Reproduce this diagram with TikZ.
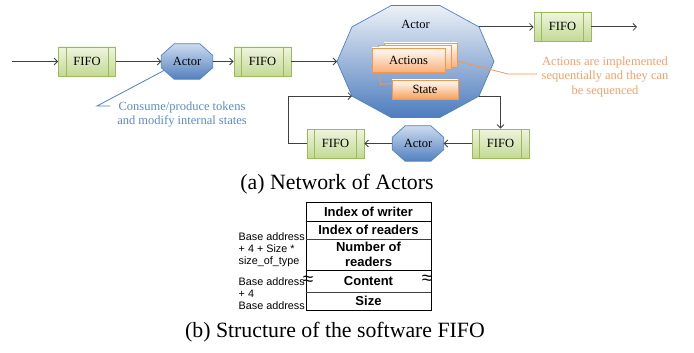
\documentclass[tikz,border=0pt]{standalone}
\usepackage{fontspec}
\setmainfont{Liberation Serif}
\setsansfont{Liberation Sans}
\usetikzlibrary{arrows.meta,calc}
\pgfdeclarelayer{bg}
\pgfsetlayers{bg,main}
\definecolor{fifoline}{HTML}{9BBB59}
\definecolor{fifotop}{HTML}{EEF5DD}
\definecolor{fifobot}{HTML}{C3D995}
\definecolor{actline}{HTML}{4F81BD}
\definecolor{acttop}{HTML}{CCDBEF}
\definecolor{actmidc}{HTML}{8DAFD9}
\definecolor{actbot}{HTML}{5280BF}
\definecolor{bigtop}{HTML}{EDF1F7}
\definecolor{bigbot}{HTML}{4D7CBE}
\definecolor{orline}{HTML}{F79646}
\definecolor{ortop}{HTML}{FFFCFA}
\definecolor{ormid}{HTML}{FCDCC4}
\definecolor{orbot}{HTML}{F9B07A}
\definecolor{ortext}{HTML}{F4A06A}
\definecolor{bluetext}{HTML}{5B8CC8}
\definecolor{arrowgray}{HTML}{404040}
\tikzset{
  dfont/.style={font=\fontsize{12.5}{14}\selectfont},
  fifo/.style={draw=fifoline, line width=0.8pt, top color=fifotop, bottom color=fifobot,
    minimum width=57pt, minimum height=29pt, inner sep=0pt, dfont,
    path picture={\draw[fifoline, line width=0.8pt]
      ($(path picture bounding box.north west)+(7.5,0)$) -- ($(path picture bounding box.south west)+(7.5,0)$)
      ($(path picture bounding box.north east)+(-7.5,0)$) -- ($(path picture bounding box.south east)+(-7.5,0)$);}},
  actorbox/.style={minimum width=51pt, minimum height=35pt, inner sep=0pt, dfont},
  actorfill/.style={draw=actline, line width=0.7pt, top color=acttop, middle color=actmidc, bottom color=actbot},
  bigfill/.style={draw=actline, line width=0.7pt, top color=bigtop, bottom color=bigbot},
  actbox/.style={draw=orline, line width=0.8pt, top color=ortop, middle color=ormid, bottom color=orbot,
    minimum width=73pt, minimum height=24pt, inner sep=0pt, dfont},
  statebox/.style={draw=orline, line width=0.8pt, top color=ortop, middle color=ormid, bottom color=orline!90,
    minimum width=66pt, minimum height=19pt, inner sep=0pt, dfont},
  conn/.style={draw=arrowgray, line width=0.8pt, -{Straight Barb[length=3.5pt,width=7pt]}},
  cell/.style={draw=black, line width=0.8pt, minimum width=125pt, inner sep=0pt,
    font=\sffamily\bfseries\fontsize{13}{15}\selectfont, align=center},
  sepline/.style={draw=black!75, line width=1.6pt},
  lab/.style={inner sep=0pt, align=left, font=\sffamily\fontsize{10.8}{11.8}\selectfont},
  apx/.style={font=\sffamily\fontsize{19}{19}\selectfont, inner sep=0pt},
  capt/.style={font=\fontsize{21.8}{24}\selectfont}
}
\newcommand\octo[1]{\path[actorfill]
  ($(#1.north west)!0.25!(#1.north east)$) -- ($(#1.north west)!0.75!(#1.north east)$) --
  ($(#1.north east)!0.325!(#1.south east)$) -- ($(#1.north east)!0.675!(#1.south east)$) --
  ($(#1.south west)!0.75!(#1.south east)$) -- ($(#1.south west)!0.25!(#1.south east)$) --
  ($(#1.north west)!0.675!(#1.south west)$) -- ($(#1.north west)!0.325!(#1.south west)$) -- cycle;}
\begin{document}
\begin{tikzpicture}[x=1pt,y=-1pt]
\useasboundingbox (0,0) rectangle (694,353);

% ---- network of actors ----
\coordinate (in0) at (12,61.5);
\node[fifo] (fifo1) at (87,61.5) {FIFO};
\node[actorbox] (actor1) at (187,61.5) {Actor};
\node[fifo] (fifo2) at (262.5,61.5) {FIFO};

% big actor
\node[minimum width=157pt, minimum height=112pt, inner sep=0pt] (big) at (415.5,61.5) {};
\coordinate (bigN1) at ($(big.center)+(-24.3,-56)$);
\coordinate (bigN2) at ($(big.center)+(24.3,-56)$);
\coordinate (bigNE) at ($(big.center)+(63.5,-34.6)$);
\coordinate (bigE)  at ($(big.center)+(78.5,0)$);
\coordinate (bigSE) at ($(big.center)+(63.5,34.6)$);
\coordinate (bigS2) at ($(big.center)+(24.3,56)$);
\coordinate (bigS1) at ($(big.center)+(-24.3,56)$);
\coordinate (bigSW) at ($(big.center)+(-63.5,34.6)$);
\coordinate (bigW)  at ($(big.center)+(-78.5,0)$);
\coordinate (bigNW) at ($(big.center)+(-63.5,-34.6)$);
\node[dfont] (bigtitle) at (415.5,24) {Actor};

\node[actbox] (actback) at (420.5,55) {};
\node[actbox] (actmid) at (414.5,57.5) {};
\node[actbox] (actions) at (408.5,60) {Actions};
\node[statebox] (state) at (425,89.5) {State};

\node[fifo] (fifo3) at (562.5,26.9) {FIFO};
\coordinate (out0) at (637,26.9);
\node[fifo] (fifo4) at (500.5,143.5) {FIFO};
\node[actorbox] (actor2) at (418,143.5) {Actor};
\node[fifo] (fifo5) at (335.5,143.5) {FIFO};

\begin{pgfonlayer}{bg}
  \path[bigfill] (bigN1) -- (bigN2) -- (bigNE) -- (bigE) -- (bigSE) -- (bigS2) -- (bigS1) -- (bigSW) -- (bigW) -- (bigNW) -- cycle;
  \octo{actor1}
  \octo{actor2}
\end{pgfonlayer}

% connectors
\draw[conn] (in0) -- (fifo1.west);
\draw[conn] (fifo1.east) -- (actor1.west);
\draw[conn] (actor1.east) -- (fifo2.west);
\draw[conn] (fifo2.east) -- (bigW);
\draw[conn] (bigNE) -- (fifo3.west);
\draw[conn] (fifo3.east) -- (out0);
\draw[conn] (bigSE) -| (fifo4.north);
\draw[conn] (fifo4.west) -- (actor2.east);
\draw[conn] (actor2.west) -- (fifo5.east);
\draw[conn] (fifo5.west) -- ++(-18,0) |- (bigSW);

% orange details
\draw[orline, line width=0.8pt] ($(actions.south west)+(7,0)$) -- ($(actions.south west)+(9,12)$) -- ($(state.north west)+(0,4)$);
\coordinate (notept) at (537,74);
\draw[orline, line width=0.8pt] ($(actback.east)+(0,6)$) -- (508,74) -- (notept);
\node[text=ortext, align=center, font=\fontsize{12.5}{14.5}\selectfont] (note) at (605,76.5)
  {Actions are implemented\\sequentially and they can\\be sequenced};

% blue callout
\coordinate (callA) at (97,106);
\coordinate (callB) at (110,106);
\draw[actline, line width=0.8pt] ($(actor1.center)+(-23,9)$) -- (callA) -- (callB);
\node[text=bluetext, align=center, font=\fontsize{12.5}{13.2}\selectfont] (consume) at (182,114.5)
  {Consume/produce tokens\\and modify internal states};

\node[capt] (capa) at (337,184.5) {(a) Network of Actors};

% ---- FIFO structure ----
\node[cell, minimum height=19pt] (r1) at (368.5,211.5) {Index of writer};
\node[cell, minimum height=18pt] (r2) at (368.5,230) {Index of readers};
\node[cell, minimum height=31pt] (r3) at (368.5,254.5) {Number of\\readers};
\node[cell, minimum height=22pt] (r4) at (368.5,281) {Content};
\node[cell, minimum height=18pt] (r5) at (368.5,301) {Size};
\draw[sepline] (r2.south west) -- (r2.south east);
\draw[sepline] (r4.south west) -- (r4.south east);

\node[lab, anchor=west] (lab1) at (238.5,250) {Base address\\+ 4 + Size *\\size\_of\_type};
\node[lab, anchor=west] (lab2) at (238.5,293.5) {Base address\\+ 4\\Base address};
\node[apx] (apL) at (308,281) {≈};
\node[apx] (apR) at (427,280) {≈};

\node[capt] (capb) at (335,332) {(b) Structure of the software FIFO};
\end{tikzpicture}
\end{document}
